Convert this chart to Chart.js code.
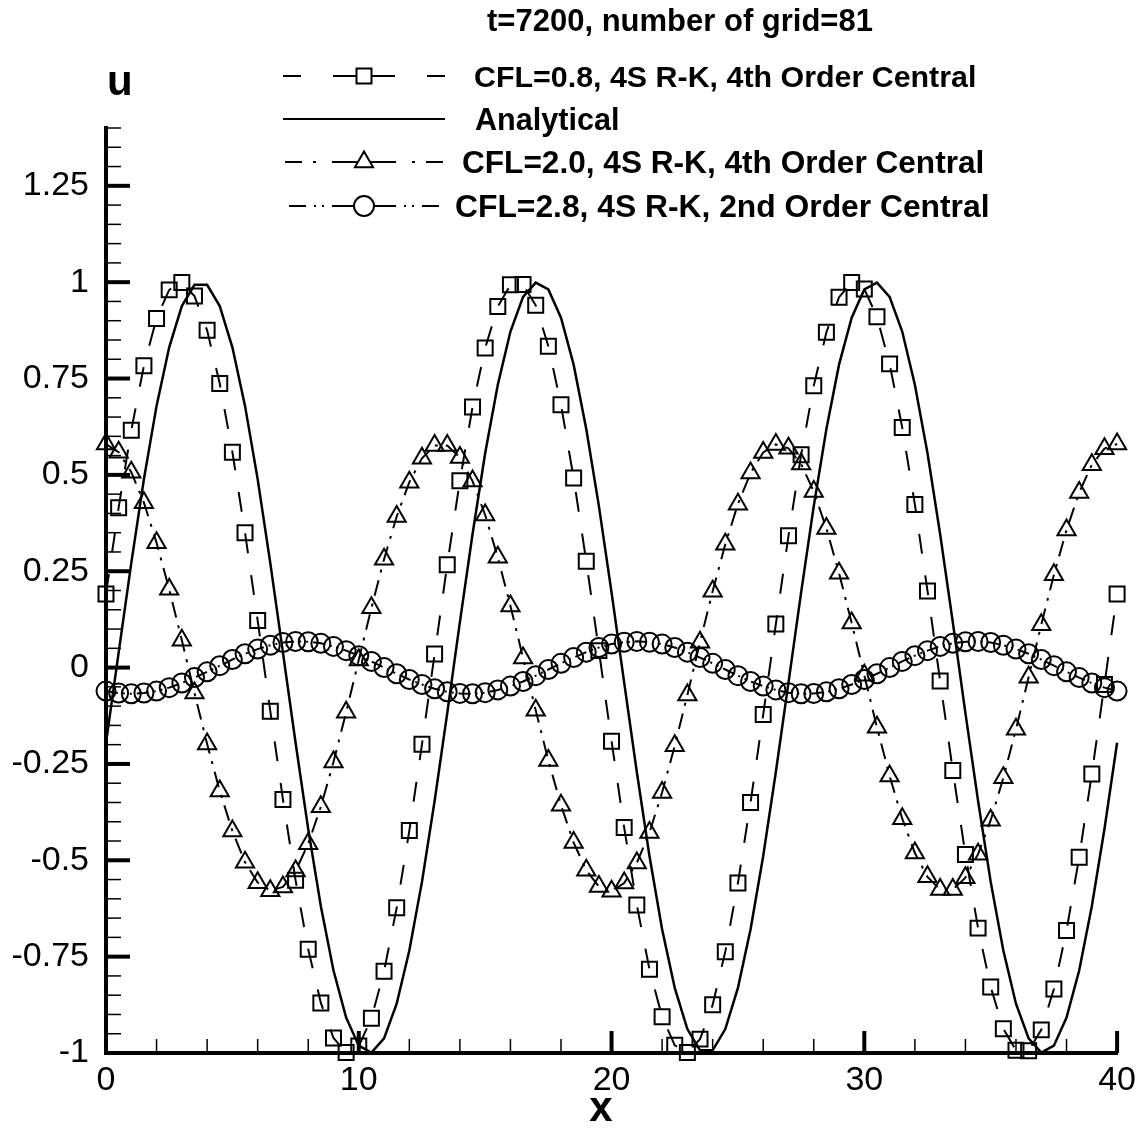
<!DOCTYPE html>
<html>
<head>
<meta charset="utf-8">
<script src="https://cdn.jsdelivr.net/npm/chart.js@4.4.1/dist/chart.umd.min.js"></script>
<style>
  html, body { margin: 0; padding: 0; background: #fff; }
</style>
</head>
<body>
<canvas id="chart" width="1143" height="1137"></canvas>
<script>
const FONT = "'Liberation Sans', Arial, Helvetica, sans-serif";

// grid points, 81 of them
const xGrid = [0, 0.5, 1, 1.5, 2, 2.5, 3, 3.5, 4, 4.5, 5, 5.5, 6, 6.5, 7, 7.5, 8, 8.5, 9, 9.5,
  10, 10.5, 11, 11.5, 12, 12.5, 13, 13.5, 14, 14.5, 15, 15.5, 16, 16.5, 17, 17.5, 18, 18.5, 19, 19.5,
  20, 20.5, 21, 21.5, 22, 22.5, 23, 23.5, 24, 24.5, 25, 25.5, 26, 26.5, 27, 27.5, 28, 28.5, 29, 29.5,
  30, 30.5, 31, 31.5, 32, 32.5, 33, 33.5, 34, 34.5, 35, 35.5, 36, 36.5, 37, 37.5, 38, 38.5, 39, 39.5, 40];

const cfl08 = [0.191, 0.415, 0.616, 0.783, 0.906, 0.980, 0.999, 0.964, 0.875, 0.737, 0.559, 0.350, 0.122,
  -0.113, -0.342, -0.552, -0.731, -0.870, -0.961, -0.999, -0.982, -0.910, -0.788, -0.623, -0.423, -0.199,
  0.035, 0.267, 0.485, 0.676, 0.829, 0.937, 0.993, 0.994, 0.940, 0.834, 0.682, 0.492, 0.276, 0.044,
  -0.191, -0.415, -0.616, -0.783, -0.906, -0.980, -0.999, -0.964, -0.875, -0.737, -0.559, -0.350, -0.122,
  0.113, 0.342, 0.552, 0.731, 0.870, 0.961, 0.999, 0.982, 0.910, 0.788, 0.623, 0.423, 0.199,
  -0.035, -0.267, -0.485, -0.676, -0.829, -0.937, -0.993, -0.994, -0.940, -0.834, -0.682, -0.492, -0.276, -0.044,
  0.191];

const analytical = [-0.195, 0.039, 0.271, 0.489, 0.679, 0.831, 0.938, 0.993, 0.993, 0.938, 0.831, 0.679, 0.489, 0.271, 0.039,
  -0.195, -0.419, -0.619, -0.786, -0.908, -0.981, -0.999, -0.962, -0.872, -0.734, -0.556, -0.346, -0.118,
  0.118, 0.346, 0.556, 0.734, 0.872, 0.962, 0.999, 0.981, 0.908, 0.786, 0.619, 0.419, 0.195,
  -0.039, -0.271, -0.489, -0.679, -0.831, -0.938, -0.993, -0.993, -0.938, -0.831, -0.679, -0.489, -0.271, -0.039,
  0.195, 0.419, 0.619, 0.786, 0.908, 0.981, 0.999, 0.962, 0.872, 0.734, 0.556, 0.346, 0.118,
  -0.118, -0.346, -0.556, -0.734, -0.872, -0.962, -0.999, -0.981, -0.908, -0.786, -0.619, -0.419, -0.195];

const cfl20 = [0.580, 0.559, 0.507, 0.428, 0.324, 0.203, 0.071,
  -0.066, -0.198, -0.320, -0.424, -0.505, -0.558, -0.579, -0.569, -0.528, -0.457, -0.361, -0.245, -0.116,
  0.020, 0.155, 0.281, 0.392, 0.481, 0.543, 0.576, 0.576, 0.545, 0.484, 0.396, 0.286, 0.160, 0.025,
  -0.111, -0.241, -0.357, -0.454, -0.526, -0.568, -0.580, -0.559, -0.507, -0.428, -0.324, -0.203, -0.071,
  0.066, 0.198, 0.320, 0.424, 0.505, 0.558, 0.579, 0.569, 0.528, 0.457, 0.361, 0.245, 0.116,
  -0.020, -0.155, -0.281, -0.392, -0.481, -0.543, -0.576, -0.576, -0.545, -0.484, -0.396, -0.286, -0.160, -0.025,
  0.111, 0.241, 0.357, 0.454, 0.526, 0.568, 0.580];

const cfl28 = [-0.061, -0.066, -0.068, -0.066, -0.061, -0.052, -0.040, -0.026, -0.011,
  0.005, 0.021, 0.036, 0.048, 0.058, 0.065, 0.068, 0.067, 0.063, 0.055, 0.044, 0.031, 0.016,
  0.000,
  -0.016, -0.031, -0.044, -0.055, -0.063, -0.067, -0.068, -0.065, -0.058, -0.048, -0.036, -0.021, -0.005,
  0.011, 0.026, 0.040, 0.052, 0.061, 0.066, 0.068, 0.066, 0.061, 0.052, 0.040, 0.026, 0.011,
  -0.005, -0.021, -0.036, -0.048, -0.058, -0.065, -0.068, -0.067, -0.063, -0.055, -0.044, -0.031, -0.016,
  0.000,
  0.016, 0.031, 0.044, 0.055, 0.063, 0.067, 0.068, 0.065, 0.058, 0.048, 0.036, 0.021, 0.005,
  -0.011, -0.026, -0.040, -0.052, -0.061];

const seriesNames = [
  'CFL=0.8, 4S R-K, 4th Order Central',
  'Analytical',
  'CFL=2.0, 4S R-K, 4th Order Central',
  'CFL=2.8, 4S R-K, 2nd Order Central'
];

const toPoints = (arr) => xGrid.map((x, i) => ({ x: x, y: arr[i] }));

// legend look: dash pattern measured outwards from the marker
const legendRows = [
  { y: 76, textX: 474, size: 30.4, dash: [31, 32, 18, 100], marker: 'rect' },
  { y: 119, textX: 475, size: 30.6, dash: [], marker: null },
  { y: 162, textX: 462, size: 31.6, dash: [32, 16, 3, 11, 17, 100], marker: 'triangle' },
  { y: 206, textX: 455, size: 31.8, dash: [32, 8, 2, 6, 2, 8, 17, 100], marker: 'circle' }
];

function drawMarker(ctx, style, cx, cy) {
  ctx.beginPath();
  if (style === 'rect') {
    ctx.rect(cx - 7.5, cy - 7.5, 15, 15);
  } else if (style === 'triangle') {
    ctx.moveTo(cx, cy - 10.5);
    ctx.lineTo(cx + 9.1, cy + 5.25);
    ctx.lineTo(cx - 9.1, cy + 5.25);
    ctx.closePath();
  } else {
    ctx.arc(cx, cy, 10, 0, Math.PI * 2);
  }
  ctx.fillStyle = '#fff';
  ctx.fill();
  ctx.stroke();
}

const decor = {
  id: 'decor',
  afterDraw(chart) {
    const { ctx, scales: { x, y } } = chart;
    ctx.save();
    ctx.strokeStyle = '#000';
    ctx.fillStyle = '#000';

    // inward ticks on the left axis
    for (let i = 0; i <= 48; i++) {
      const major = i % 5 === 0;
      const py = y.getPixelForValue(-1 + i * 0.05);
      ctx.lineWidth = major ? 4 : 1.5;
      ctx.beginPath();
      ctx.moveTo(x.left, py);
      ctx.lineTo(x.left + (major ? 24 : 15), py);
      ctx.stroke();
    }
    // inward ticks on the bottom axis
    for (let v = 0; v <= 40; v += 2) {
      const major = v % 10 === 0;
      const px = x.getPixelForValue(v);
      ctx.lineWidth = major ? 4 : 1.5;
      ctx.beginPath();
      ctx.moveTo(px, y.bottom);
      ctx.lineTo(px, y.bottom - (major ? 22 : 14));
      ctx.stroke();
    }

    // texts
    ctx.textBaseline = 'alphabetic';
    ctx.textAlign = 'center';
    ctx.font = 'bold 31px ' + FONT;
    ctx.fillText('t=7200, number of grid=81', 680, 31);
    ctx.textAlign = 'left';
    ctx.font = 'bold 42px ' + FONT;
    ctx.fillText('u', 107, 95);
    ctx.textAlign = 'center';
    ctx.fillText('x', 601, 1121);

    // legend
    ctx.lineWidth = 2;
    legendRows.forEach((row, i) => {
      const cx = 364;
      ctx.setLineDash(row.dash);
      ctx.beginPath(); ctx.moveTo(cx, row.y); ctx.lineTo(283, row.y); ctx.stroke();
      ctx.beginPath(); ctx.moveTo(cx, row.y); ctx.lineTo(445, row.y); ctx.stroke();
      ctx.setLineDash([]);
      if (row.marker) drawMarker(ctx, row.marker, cx, row.y);
      ctx.fillStyle = '#000';
      ctx.textAlign = 'left';
      ctx.font = 'bold ' + row.size + 'px ' + FONT;
      ctx.fillText(seriesNames[i], row.textX, row.y + 11);
    });
    ctx.restore();
  }
};

const common = {
  showLine: true,
  borderColor: '#000',
  pointBorderColor: '#000',
  pointBackgroundColor: 'rgba(0,0,0,0)',
  pointBorderWidth: 2,
  tension: 0,
  clip: false
};

new Chart(document.getElementById('chart'), {
  type: 'scatter',
  data: {
    datasets: [
      Object.assign({}, common, {
        label: seriesNames[0], data: toPoints(cfl08),
        borderWidth: 2, borderDash: [20, 22],
        pointStyle: 'rect', pointRadius: 10.6
      }),
      Object.assign({}, common, {
        label: seriesNames[1], data: toPoints(analytical),
        borderWidth: 2.5, pointRadius: 0
      }),
      Object.assign({}, common, {
        label: seriesNames[2], data: toPoints(cfl20),
        borderWidth: 2, borderDash: [16, 8, 3, 8],
        pointStyle: 'triangle', pointRadius: 10.5
      }),
      Object.assign({}, common, {
        label: seriesNames[3], data: toPoints(cfl28),
        borderWidth: 2, borderDash: [12, 5, 2, 5, 2, 5],
        pointStyle: 'circle', pointRadius: 9.5
      })
    ]
  },
  options: {
    responsive: false,
    animation: false,
    devicePixelRatio: 1,
    layout: { padding: { top: 128, right: 23, left: 0, bottom: 0 } },
    plugins: { legend: { display: false }, tooltip: { enabled: false } },
    scales: {
      x: {
        type: 'linear', min: 0, max: 40,
        afterFit: (s) => { s.height = 84; },
        grid: { display: false, drawTicks: false },
        border: { display: true, color: '#000', width: 4 },
        ticks: { stepSize: 10, padding: 7, color: '#000', maxRotation: 0, font: { family: FONT, size: 34 } }
      },
      y: {
        type: 'linear', min: -1, max: 1.4,
        afterFit: (s) => { s.width = 106; },
        grid: { display: false, drawTicks: false },
        border: { display: true, color: '#000', width: 4 },
        ticks: {
          stepSize: 0.25, includeBounds: false, padding: 17, color: '#000',
          font: { family: FONT, size: 34 },
          callback: (v) => String(Math.round(v * 100) / 100)
        }
      }
    }
  },
  plugins: [decor]
});
</script>
</body>
</html>
